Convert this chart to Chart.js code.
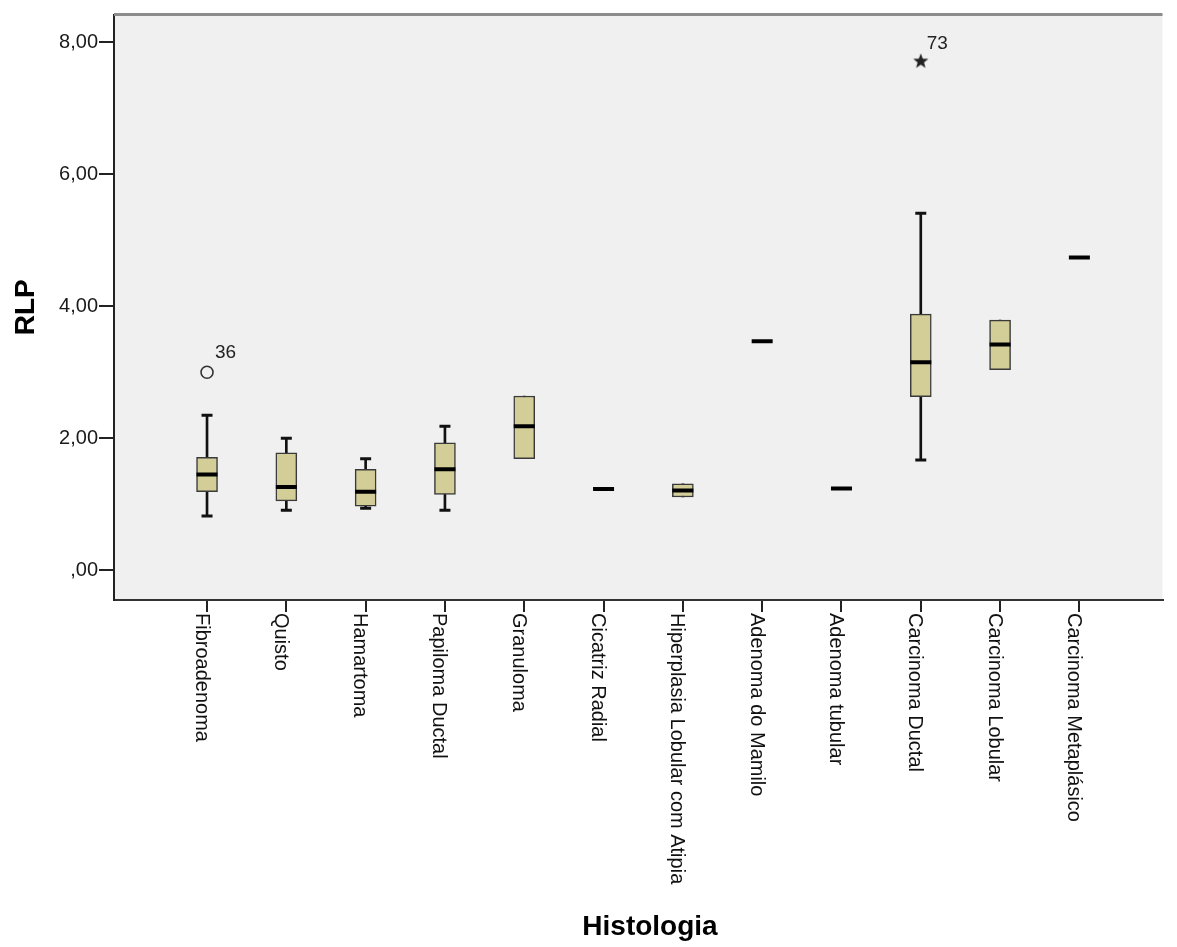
<!DOCTYPE html>
<html>
<head>
<meta charset="utf-8">
<title>RLP por Histologia</title>
<script src="https://cdn.jsdelivr.net/npm/chart.js@4.4.1/dist/chart.umd.min.js"></script>
<style>
  html, body { margin: 0; padding: 0; background: #fff; overflow: hidden; }
  #wrap { width: 1177px; height: 947px; }
  #boxChart { display: block; }
</style>
</head>
<body>
<div id="wrap"><canvas id="boxChart"></canvas></div>
<script>
/* ================= DATA ================= */

const categories = [
  "Fibroadenoma", "Quisto", "Hamartoma", "Papiloma Ductal", "Granuloma",
  "Cicatriz Radial", "Hiperplasia Lobular com Atipia", "Adenoma do Mamilo",
  "Adenoma tubular", "Carcinoma Ductal", "Carcinoma Lobular", "Carcinoma Metaplásico"
];

const whiskerLow  = [0.82, 0.91, 0.94, 0.91, 1.69, 1.23, 1.11, 3.47, 1.24, 1.67, 3.04, 4.74];
const q1          = [1.19, 1.05, 0.97, 1.15, 1.69, 1.23, 1.11, 3.47, 1.24, 2.63, 3.04, 4.74];
const medians     = [1.45, 1.26, 1.19, 1.53, 2.18, 1.23, 1.21, 3.47, 1.24, 3.15, 3.42, 4.74];
const q3          = [1.71, 1.78, 1.53, 1.93, 2.64, 1.23, 1.31, 3.47, 1.24, 3.88, 3.79, 4.74];
const whiskerHigh = [2.35, 2.00, 1.69, 2.18, 2.64, 1.23, 1.31, 3.47, 1.24, 5.41, 3.79, 4.74];

// outliers (circle) and extremes (star), with case numbers
const outlierCat = [0];
const outlierVal = [3.00];
const outlierId  = ["36"];
const extremeCat = [9];
const extremeVal = [7.71];
const extremeId  = ["73"];

const yTicks = [0, 2, 4, 6, 8];

/* ================= HELPERS ================= */

const FONT = "'Liberation Sans', Arial, sans-serif";

function makeStar(r) {
  const c = document.createElement("canvas");
  c.width = c.height = r * 2 + 2;
  const g = c.getContext("2d");
  g.fillStyle = "#222";
  g.beginPath();
  for (let k = 0; k < 10; k++) {
    const rad = k % 2 ? r * 0.42 : r;
    const a = -Math.PI / 2 + k * Math.PI / 5;
    g.lineTo(c.width / 2 + rad * Math.cos(a), c.height / 2 + rad * Math.sin(a));
  }
  g.closePath();
  g.fill();
  return c;
}

const whiskerData = [];
const boxData = [];
const capData = [];
const medianData = [];

categories.forEach((c, i) => {
  if (whiskerHigh[i] > whiskerLow[i]) whiskerData.push({ x: i, y: [whiskerLow[i], whiskerHigh[i]] });
  if (q3[i] > q1[i]) boxData.push({ x: i, y: [q1[i], q3[i]] });
  if (whiskerLow[i] < q1[i]) capData.push({ x: i, y: whiskerLow[i] });
  if (whiskerHigh[i] > q3[i]) capData.push({ x: i, y: whiskerHigh[i] });
  medianData.push({ x: i, y: medians[i] });
});

/* ================= PLUGIN ================= */

const spssLook = {
  id: "spssLook",
  beforeDraw(chart) {
    const { ctx, chartArea: a } = chart;
    ctx.save();
    ctx.fillStyle = "#f0f0f0";
    ctx.fillRect(a.left, a.top, a.right - a.left, a.bottom - a.top);
    ctx.restore();
  },
  afterDraw(chart) {
    const { ctx, chartArea: a, scales: { x, y } } = chart;
    ctx.save();

    // top frame line
    ctx.strokeStyle = "#8c8c8c";
    ctx.lineWidth = 3;
    ctx.beginPath();
    ctx.moveTo(a.left, a.top);
    ctx.lineTo(a.right, a.top);
    ctx.stroke();

    // category labels, rotated clockwise
    ctx.font = "20px " + FONT;
    ctx.fillStyle = "#111";
    ctx.textAlign = "left";
    ctx.textBaseline = "alphabetic";
    categories.forEach((c, i) => {
      ctx.save();
      ctx.translate(x.getPixelForValue(i) - 11.5, a.bottom + 13);
      ctx.rotate(Math.PI / 2);
      ctx.fillText(c, 0, 0);
      ctx.restore();
    });

    // case labels
    ctx.font = "19px " + FONT;
    ctx.fillStyle = "#222";
    outlierCat.forEach((c, k) => {
      ctx.fillText(outlierId[k], x.getPixelForValue(c) + 8, y.getPixelForValue(outlierVal[k]) - 14);
    });
    extremeCat.forEach((c, k) => {
      ctx.fillText(extremeId[k], x.getPixelForValue(c) + 6, y.getPixelForValue(extremeVal[k]) - 12);
    });

    // x axis title
    ctx.font = "bold 28px " + FONT;
    ctx.fillStyle = "#000";
    ctx.textAlign = "center";
    ctx.textBaseline = "middle";
    ctx.fillText("Histologia", 650, 927);

    ctx.restore();
  }
};

/* ================= CHART ================= */

new Chart(document.getElementById("boxChart"), {
  type: "bar",
  data: {
    datasets: [
      {
        type: "bar",
        data: whiskerData,
        backgroundColor: "#111",
        borderWidth: 0,
        barThickness: 2,
        grouped: false,
        order: 6
      },
      {
        type: "bar",
        data: boxData,
        backgroundColor: "#d3ce97",
        borderColor: "#3a3a3a",
        borderWidth: 1.5,
        borderSkipped: false,
        barThickness: 21,
        grouped: false,
        order: 5
      },
      {
        type: "scatter",
        data: capData,
        pointStyle: "line",
        pointRadius: 5.5,
        borderColor: "#111",
        borderWidth: 3,
        order: 4
      },
      {
        type: "scatter",
        data: medianData,
        pointStyle: "line",
        pointRadius: 10.5,
        borderColor: "#000",
        borderWidth: 4,
        order: 3
      },
      {
        type: "scatter",
        data: outlierCat.map((c, k) => ({ x: c, y: outlierVal[k] })),
        pointStyle: "circle",
        pointRadius: 6,
        backgroundColor: "rgba(0,0,0,0)",
        borderColor: "#333",
        borderWidth: 1.6,
        order: 2
      },
      {
        type: "scatter",
        data: extremeCat.map((c, k) => ({ x: c, y: extremeVal[k] })),
        pointStyle: makeStar(8),
        order: 1
      }
    ]
  },
  options: {
    responsive: true,
    maintainAspectRatio: false,
    animation: false,
    events: [],
    layout: { padding: { top: 10, right: 0, bottom: 0, left: 0 } },
    plugins: {
      legend: { display: false },
      tooltip: { enabled: false }
    },
    scales: {
      x: {
        type: "linear",
        min: -1.173,
        max: 12.048,
        offset: false,
        afterBuildTicks: scale => { scale.ticks = categories.map((c, i) => ({ value: i })); },
        afterFit: scale => { scale.height = 347; },
        ticks: { display: false },
        grid: {
          drawOnChartArea: false,
          drawTicks: true,
          tickLength: 12,
          color: "#222",
          lineWidth: 2,
          offset: false
        },
        border: { display: true, color: "#333", width: 2 },
        title: { display: false }
      },
      y: {
        type: "linear",
        min: -0.451,
        max: 8.421,
        afterBuildTicks: scale => { scale.ticks = yTicks.map(v => ({ value: v })); },
        afterFit: scale => { scale.width = 114; },
        ticks: {
          padding: 1,
          color: "#1a1a1a",
          font: { family: FONT, size: 20 },
          callback: v => (v === 0 ? ",00" : v.toFixed(2).replace(".", ","))
        },
        grid: {
          drawOnChartArea: false,
          drawTicks: true,
          tickLength: 15,
          color: "#222",
          lineWidth: 2
        },
        border: { display: true, color: "#222", width: 2 },
        title: {
          display: true,
          text: "RLP",
          color: "#000",
          font: { family: FONT, size: 28, weight: "bold" },
          padding: { top: 9.5, bottom: 0 }
        }
      }
    }
  },
  plugins: [spssLook]
});
</script>
</body>
</html>
